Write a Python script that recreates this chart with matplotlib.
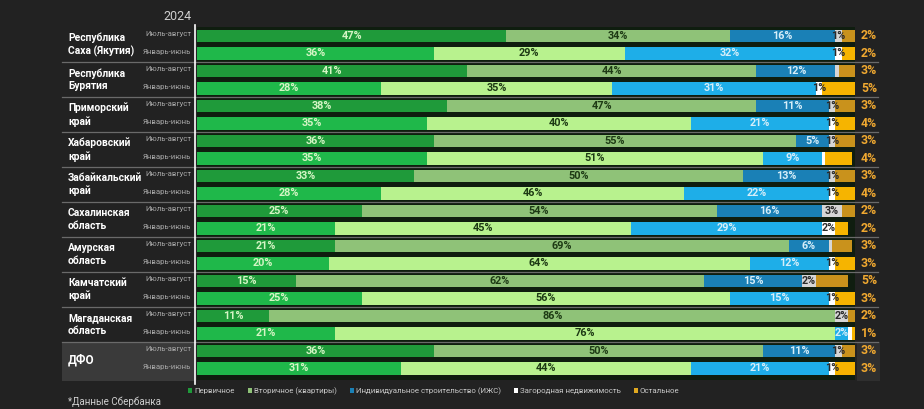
import matplotlib
matplotlib.use("Agg")
import matplotlib.pyplot as plt
from matplotlib.patches import Patch, Rectangle
from matplotlib.transforms import blended_transform_factory
from matplotlib.lines import Line2D

plt.rcParams['font.family'] = ['Roboto', 'DejaVu Sans']

regions = ["Республика\nСаха (Якутия)", "Республика\nБурятия", "Приморский\nкрай",
           "Хабаровский\nкрай", "Забайкальский\nкрай", "Сахалинская\nобласть",
           "Амурская\nобласть", "Камчатский\nкрай", "Магаданская\nобласть", "ДФО"]
periods = ["Июль-август", "Январь-июнь"]
categories = ["Первичное", "Вторичное (квартиры)", "Индивидуальное строительство (ИЖС)",
              "Загородная недвижимость", "Остальное"]

# values per region: [Jul-Aug, Jan-Jun]
primary   = [[47, 36], [41, 28], [38, 35], [36, 35], [33, 28], [25, 21], [21, 20], [15, 25], [11, 21], [36, 31]]
secondary = [[34, 29], [44, 35], [47, 40], [55, 51], [50, 46], [54, 45], [69, 64], [62, 56], [86, 76], [50, 44]]
ijs       = [[16, 32], [12, 31], [11, 21], [5, 9],   [13, 22], [16, 29], [6, 12],  [15, 15], [0, 2],   [11, 21]]
country   = [[1, 1],   [0.5, 1], [1, 1],   [1, 0.5], [1, 1],   [3, 2],   [0.5, 1], [2, 1],   [2, 0.5], [1, 1]]
other     = [[2, 2],   [3, 5],   [3, 4],   [3, 4],   [3, 4],   [2, 2],   [3, 3],   [5, 3],   [2, 1],   [3, 3]]

series = [primary, secondary, ijs, country, other]
colors = [["#1f9a3a", "#1fb84a"],
          ["#8fc278", "#b8f28e"],
          ["#1a80b6", "#1eaee8"],
          ["#d6d6d6", "#ffffff"],
          ["#c9921c", "#f6b400"]]
text_colors = ["#d5f5c5", "#1d3a14", "#d6eef9", "#2a2a2a", None]

W, H = 924, 409
fig = plt.figure(figsize=(W / 100, H / 100), dpi=100)
bg = "#222222"
fig.patch.set_facecolor(bg)

x0, x1, ytop, ybot = 197, 855, 27, 380
ax = fig.add_axes([x0 / W, 1 - ybot / H, (x1 - x0) / W, (ybot - ytop) / H])
ax.set_xlim(0, 100)
ax.set_ylim(ybot, ytop)
ax.set_facecolor("#0f1d0f")
for s in ax.spines.values():
    s.set_visible(False)
ax.set_xticks([])
ax.set_yticks([])

row0, region_step, period_step, bar_h = 36, 35, 17.3, 12.5
trans = blended_transform_factory(fig.transFigure, ax.transData)

# DFO highlight boxes
dfo_y0 = row0 + region_step * 9 - 9
ax.add_patch(Rectangle((62 / W, dfo_y0), (195 - 62) / W, 381 - dfo_y0, transform=trans,
                       facecolor="#3a3a3a", edgecolor="none", zorder=-5, clip_on=False))
ax.add_patch(Rectangle((857 / W, dfo_y0), (880 - 857) / W, 381 - dfo_y0, transform=trans,
                       facecolor="#2f2f2f", edgecolor="none", zorder=-5, clip_on=False))

for i, reg in enumerate(regions):
    for j in range(2):
        y = row0 + region_step * i + period_step * j
        left = 0
        for k in range(5):
            v = series[k][i][j]
            ax.barh(y, v, left=left, height=bar_h, color=colors[k][j], edgecolor="none")
            if k < 4 and v >= 1:
                ax.text(left + v / 2, y, f"{v:g}%", ha="center", va="center", fontsize=7.8,
                        fontweight="bold", color=text_colors[k])
            left += v
        ax.text(869 / W, y, f"{series[4][i][j]:g}%", transform=trans, ha="center", va="center",
                fontsize=8.8, fontweight="bold", color="#f0a830")
        ax.text(191 / W, y - 1.5, periods[j], transform=trans, ha="right", va="center",
                fontsize=5.6, color="#a8a8a8")
    yc = row0 + region_step * i + period_step / 2
    ax.text(68 / W, yc, reg, transform=trans, ha="left", va="center",
            fontsize=8.5 if i == 9 else 7.4,
            fontweight="bold", color="white", linespacing=1.3)
    if i < len(regions) - 1:
        ysep = row0 + region_step * i + period_step + (region_step - period_step) / 2
        ax.add_line(Line2D([62 / W, 878 / W], [ysep, ysep], transform=trans, color="#6a6a6a",
                           lw=0.9, clip_on=False))

# vertical line
fig.add_artist(Line2D([195 / W, 195 / W], [1 - 25 / H, 1 - 384 / H], color="white", lw=1.2))

fig.text(178 / W, 1 - 17 / H, "2024", ha="center", va="center", fontsize=9, color="#cfcfcf")
fig.text(68 / W, 1 - 402 / H, "*Данные Сбербанка", ha="left", va="center", fontsize=7, color="#d0d0d0")

leg_colors = ["#1f9a3a", "#8fc278", "#1a80b6", "#ffffff", "#e0a820"]
handles = [Patch(facecolor=c, edgecolor="none", label=l) for c, l in zip(leg_colors, categories)]
fig.legend(handles=handles, loc="center", bbox_to_anchor=(434 / W, 1 - 391 / H), ncol=5,
           frameon=False, fontsize=5.7, handlelength=0.5, handleheight=0.5,
           handletextpad=0.3, columnspacing=1.6, labelcolor="#c8c8c8", borderpad=0)

fig.savefig("out.png", dpi=100, facecolor=bg)
